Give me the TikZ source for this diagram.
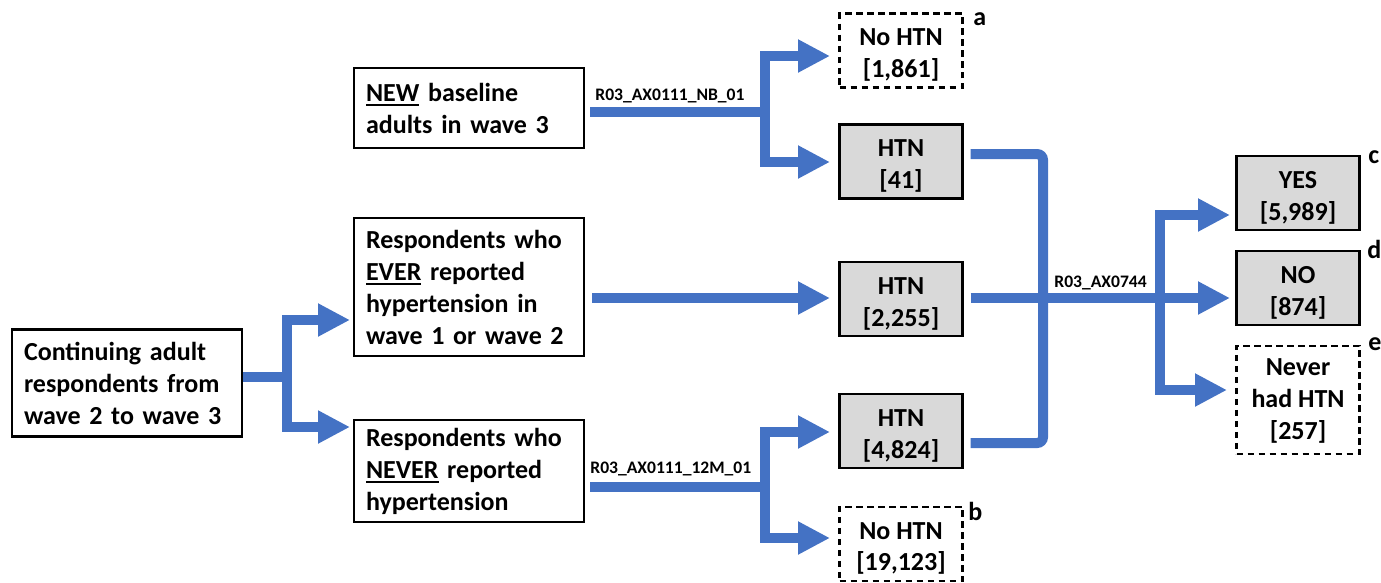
\documentclass[tikz,border=0pt]{standalone}
\usepackage{fontspec}
\setmainfont{Carlito}
\usepackage{xcolor}
\usepackage{tikz}
\usetikzlibrary{positioning,arrows.meta}
\definecolor{flowblue}{HTML}{4472C4}
\definecolor{htngray}{HTML}{D9D9D9}
\newcommand{\undl}[1]{\leavevmode\setbox0\hbox{#1}\rlap{\rule[-2.6pt]{\wd0}{1.1pt}}\box0\relax}

\begin{document}
\begin{tikzpicture}[
  x=0.02cm, y=-0.02cm,
  font=\fontsize{14.8}{18.2}\selectfont\bfseries,
  cohort/.style={draw, line width=0.05cm, inner xsep=0.24cm, text width=4.12cm, align=left},
  outc/.style={draw, line width=0.05cm, fill=htngray, minimum width=2.46cm, minimum height=1.48cm,
               align=center, inner sep=0pt, outer sep=0pt, text height=33pt},
  miss/.style={outc, fill=white, dash pattern=on 0.13cm off 0.09cm},
  flow/.style={draw=flowblue, line width=0.2cm},
  arr/.style={flow, -{Triangle[length=0.64cm, width=0.62cm]}},
  code/.style={font=\fontsize{10}{12}\selectfont\bfseries, inner sep=0pt, anchor=base west},
  tag/.style={inner sep=0pt, anchor=base west},
]
\useasboundingbox (0,0) rectangle (1381,582);

\node[cohort, minimum height=2.14cm] (start) at (127,383) {Continuing adult\\respondents from\\wave 2 to wave 3};
\node[cohort, minimum height=1.6cm] (newb) at (469,108) {\undl{NEW} baseline\\adults in wave 3};
\node[cohort, minimum height=2.76cm] (ever) at (469,287) {Respondents who\\\undl{EVER} reported\\hypertension in\\wave 1 or wave 2};
\node[cohort, minimum height=2.04cm] (never) at (469,471) {Respondents who\\\undl{NEVER} reported\\hypertension};

\node[miss] (noA) at (901,50.5) {No HTN\\{[1,861]}};
\node[outc, below=0.74cm of noA] (htnA) {HTN\\{[41]}};
\node[outc, below=1.27cm of htnA] (htnB) {HTN\\{[2,255]}};
\node[outc, below=1.16cm of htnB] (htnC) {HTN\\{[4,824]}};
\node[miss, below=0.78cm of htnC] (noB) {No HTN\\{[19,123]}};

\node[outc] (yes) at (1298,193) {YES\\{[5,989]}};
\node[outc, below=0.42cm of yes] (no) {NO\\{[874]}};
\node[miss, minimum height=2.16cm, text height=47pt, below=0.42cm of no] (nvr) {Never\\had HTN\\{[257]}};

\node[tag] (tagA) at (973,25) {a};
\node[tag] (tagB) at (968,520) {b};
\node[tag] (tagC) at (1368,163) {c};
\node[tag] (tagD) at (1367,258) {d};
\node[tag] (tagE) at (1368,350) {e};

\coordinate (jStart) at (287,377);
\coordinate (everTip) at (350,320);
\coordinate (neverTip) at (350,427);
\coordinate (jNew) at (765,112);
\coordinate (noATip) at (830,56);
\coordinate (htnATip) at (830,162);
\coordinate (htnBTip) at (830,298);
\coordinate (jNever) at (765,487);
\coordinate (htnCTip) at (830,432);
\coordinate (noBTip) at (830,538);
\coordinate (bTop) at (1043,154);
\coordinate (bBot) at (1043,443);
\coordinate (jOut) at (1160,298);
\coordinate (yesTip) at (1230,215);
\coordinate (noTip) at (1230,298);
\coordinate (nvrTip) at (1227,390);

\draw[flow] (start.east |- jStart) -- (jStart);
\draw[arr] (jStart) |- (everTip);
\draw[arr] (jStart) |- (neverTip);

\draw[flow] ([xshift=0.1cm]newb.east |- jNew) -- (jNew);
\draw[arr] (jNew) |- (noATip);
\draw[arr] (jNew) |- (htnATip);
\node[code] (codeNB) at (595,100) {R03\_AX0111\_NB\_01};

\draw[arr] ([xshift=0.14cm]ever.east |- htnBTip) -- (htnBTip);

\draw[flow] ([xshift=0.1cm]never.east |- jNever) -- (jNever);
\draw[arr] (jNever) |- (htnCTip);
\draw[arr] (jNever) |- (noBTip);
\node[code] (code12M) at (590,473) {R03\_AX0111\_12M\_01};

\draw[flow, rounded corners=0.12cm] ([xshift=0.16cm]htnA.east |- bTop) -- (bTop) -- (bBot)
  -- ([xshift=0.16cm]htnC.east |- bBot);
\draw[arr] ([xshift=0.16cm]htnB.east |- noTip) -- (noTip);
\draw[arr] (jOut) |- (yesTip);
\draw[arr] (jOut) |- (nvrTip);
\node[code] (code0744) at (1054,287) {R03\_AX0744};
\end{tikzpicture}
\end{document}
